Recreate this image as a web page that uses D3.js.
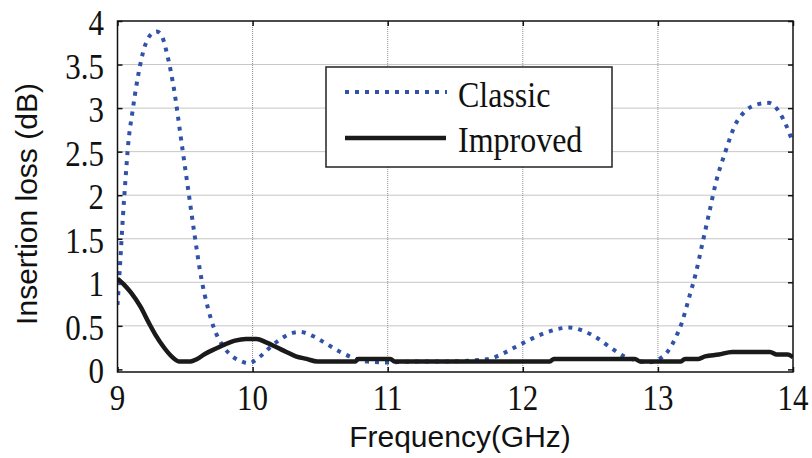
<!DOCTYPE html>
<html>
<head>
<meta charset="utf-8">
<script src="https://cdn.jsdelivr.net/npm/d3@7"></script>
<style>
  body { margin: 0; background: #fff; }
  svg { display: block; }
</style>
</head>
<body>
<svg id="chart" width="812" height="458"></svg>
<script>
// Werte
const classicFreq = [9.0, 9.02, 9.04, 9.06, 9.08, 9.11, 9.15, 9.2, 9.25, 9.29, 9.33, 9.37, 9.42, 9.47, 9.52, 9.57, 9.62, 9.67, 9.72, 9.78, 9.85, 9.92, 9.97,
  10.05, 10.12, 10.2, 10.28, 10.35, 10.45, 10.55, 10.65, 10.75, 10.85, 11.0, 11.2, 11.4, 11.6, 11.75, 11.85, 11.95,
  12.05, 12.15, 12.25, 12.34, 12.45, 12.55, 12.65, 12.75, 12.85, 12.93, 13.0, 13.07, 13.13, 13.18, 13.23, 13.28, 13.33,
  13.38, 13.43, 13.5, 13.57, 13.65, 13.73, 13.82, 13.9, 13.95, 14.0];
const classicLoss = [0.74, 1.23, 1.75, 2.2, 2.6, 2.95, 3.35, 3.7, 3.85, 3.88, 3.82, 3.6, 3.2, 2.65, 2.1, 1.55, 1.05, 0.7, 0.45, 0.27, 0.15, 0.09, 0.07,
  0.14, 0.24, 0.34, 0.41, 0.43, 0.38, 0.29, 0.2, 0.13, 0.09, 0.08, 0.09, 0.09, 0.1, 0.12, 0.18, 0.26,
  0.34, 0.41, 0.46, 0.48, 0.44, 0.36, 0.25, 0.15, 0.1, 0.08, 0.11, 0.2, 0.36, 0.55, 0.82, 1.1, 1.45,
  1.8, 2.15, 2.5, 2.8, 2.97, 3.04, 3.06, 2.95, 2.8, 2.6];

const improvedFreq = [9.0, 9.05, 9.1, 9.17, 9.23, 9.28, 9.34, 9.4, 9.46, 9.53, 9.59, 9.65, 9.73, 9.8, 9.87, 9.95,
  10.03, 10.1, 10.17, 10.25, 10.32, 10.4, 10.48, 10.76, 10.78, 11.02, 11.05, 12.2, 12.23, 12.83, 12.87,
  13.17, 13.2, 13.3, 13.35, 13.45, 13.55, 13.83, 13.88, 13.96, 14.0];
const improvedLoss = [1.04, 0.97, 0.88, 0.72, 0.54, 0.4, 0.26, 0.15, 0.09, 0.09, 0.12, 0.18, 0.24, 0.29, 0.33, 0.35,
  0.35, 0.31, 0.26, 0.2, 0.15, 0.12, 0.09, 0.09, 0.12, 0.12, 0.09, 0.09, 0.12, 0.12, 0.09,
  0.09, 0.12, 0.12, 0.15, 0.17, 0.2, 0.2, 0.17, 0.17, 0.14];

const xTicks = [9, 10, 11, 12, 13, 14];
const yTicks = [0, 0.5, 1, 1.5, 2, 2.5, 3, 3.5, 4];
const seriesNames = ["Classic", "Improved"];

const svg = d3.select("#chart");
const pLeft = 117.5, pRight = 793, pTop = 21, pBottom = 372;

const x = d3.scaleLinear().domain([9, 14]).range([pLeft, pRight]);
const y = d3.scaleLinear().domain([-0.03, 4]).range([pBottom, pTop]);

// Gitterlinien
const grid = svg.append("g").attr("stroke", "#8c8c8c").attr("stroke-width", 1).attr("stroke-dasharray", "1,1");
xTicks.slice(1, -1).forEach(function(t) {
  grid.append("line").attr("x1", x(t)).attr("x2", x(t)).attr("y1", pTop).attr("y2", pBottom);
});
yTicks.slice(1, -1).forEach(function(t) {
  grid.append("line").attr("x1", pLeft).attr("x2", pRight).attr("y1", y(t)).attr("y2", y(t));
});

// Achsen mit nach innen zeigenden Ticks
svg.append("g").attr("transform", "translate(0," + pBottom + ")")
  .call(d3.axisBottom(x).tickValues(xTicks).tickSize(-5).tickFormat(""));
svg.append("g").attr("transform", "translate(0," + pTop + ")")
  .call(d3.axisTop(x).tickValues(xTicks).tickSize(-5).tickFormat(""));
svg.append("g").attr("transform", "translate(" + pLeft + ",0)")
  .call(d3.axisLeft(y).tickValues(yTicks).tickSize(-5).tickFormat(""));
svg.append("g").attr("transform", "translate(" + pRight + ",0)")
  .call(d3.axisRight(y).tickValues(yTicks).tickSize(-5).tickFormat(""));
svg.selectAll(".domain").remove();
svg.selectAll(".tick line").attr("stroke", "#111").attr("stroke-width", 1.5);

// Tick-Beschriftungen (Ziffern im Original leicht in die Höhe gezogen)
svg.append("g").selectAll("text").data(xTicks).join("text")
  .attr("transform", function(d) { return "translate(" + x(d) + ",410) scale(1,1.15)"; })
  .attr("text-anchor", "middle")
  .style("font-family", "'Liberation Serif', 'Times New Roman', serif")
  .style("font-size", "31px")
  .attr("fill", "#111")
  .text(function(d) { return d; });

svg.append("g").selectAll("text").data(yTicks).join("text")
  .attr("transform", function(d) { return "translate(104," + (y(d) + 14) + ") scale(1,1.15)"; })
  .attr("text-anchor", "end")
  .style("font-family", "'Liberation Serif', 'Times New Roman', serif")
  .style("font-size", "31px")
  .attr("fill", "#111")
  .text(function(d) { return d; });

// Achsentitel
svg.append("text")
  .attr("x", 460).attr("y", 447)
  .attr("text-anchor", "middle")
  .style("font-family", "'Liberation Sans', Arial, sans-serif")
  .style("font-size", "30px")
  .attr("fill", "#111")
  .text("Frequency(GHz)");

svg.append("text")
  .attr("transform", "translate(37,204) rotate(-90)")
  .attr("text-anchor", "middle")
  .style("font-family", "'Liberation Sans', Arial, sans-serif")
  .style("font-size", "30px")
  .attr("fill", "#111")
  .text("Insertion loss (dB)");

// Kurven
svg.append("clipPath").attr("id", "plotclip").append("rect")
  .attr("x", pLeft).attr("y", pTop).attr("width", pRight - pLeft).attr("height", pBottom - pTop);

const line = d3.line()
  .x(function(d) { return x(d[0]); })
  .y(function(d) { return y(d[1]); })
  .curve(d3.curveMonotoneX);

const classic = d3.zip(classicFreq, classicLoss);
const improved = d3.zip(improvedFreq, improvedLoss);

const plot = svg.append("g").attr("clip-path", "url(#plotclip)");
plot.append("path").datum(classic)
  .attr("d", line)
  .attr("fill", "none")
  .attr("stroke", "#3053a8")
  .attr("stroke-width", 4)
  .attr("stroke-dasharray", "4,6");
plot.append("path").datum(improved)
  .attr("d", line)
  .attr("fill", "none")
  .attr("stroke", "#1a1a1a")
  .attr("stroke-width", 4.5)
  .attr("stroke-linejoin", "round");

// Rahmen
svg.append("rect")
  .attr("x", pLeft).attr("y", pTop).attr("width", pRight - pLeft).attr("height", pBottom - pTop)
  .attr("fill", "none").attr("stroke", "#111").attr("stroke-width", 1.5);

// Legende
const legend = svg.append("g");
legend.append("rect")
  .attr("x", 326).attr("y", 67).attr("width", 286).attr("height", 100)
  .attr("fill", "#fff").attr("stroke", "#222").attr("stroke-width", 1.5);
legend.append("line")
  .attr("x1", 345).attr("x2", 447).attr("y1", 92).attr("y2", 92)
  .attr("stroke", "#3053a8").attr("stroke-width", 4).attr("stroke-dasharray", "4,6");
legend.append("line")
  .attr("x1", 345).attr("x2", 446).attr("y1", 138).attr("y2", 138)
  .attr("stroke", "#1a1a1a").attr("stroke-width", 4.5);
legend.selectAll("text.lab").data(seriesNames).join("text")
  .attr("class", "lab")
  .attr("transform", function(d, i) { return "translate(458," + (107 + i * 45) + ") scale(1,1.1)"; })
  .style("font-family", "'Liberation Serif', 'Times New Roman', serif")
  .style("font-size", "32px")
  .attr("fill", "#111")
  .text(function(d) { return d; });
</script>
</body>
</html>
